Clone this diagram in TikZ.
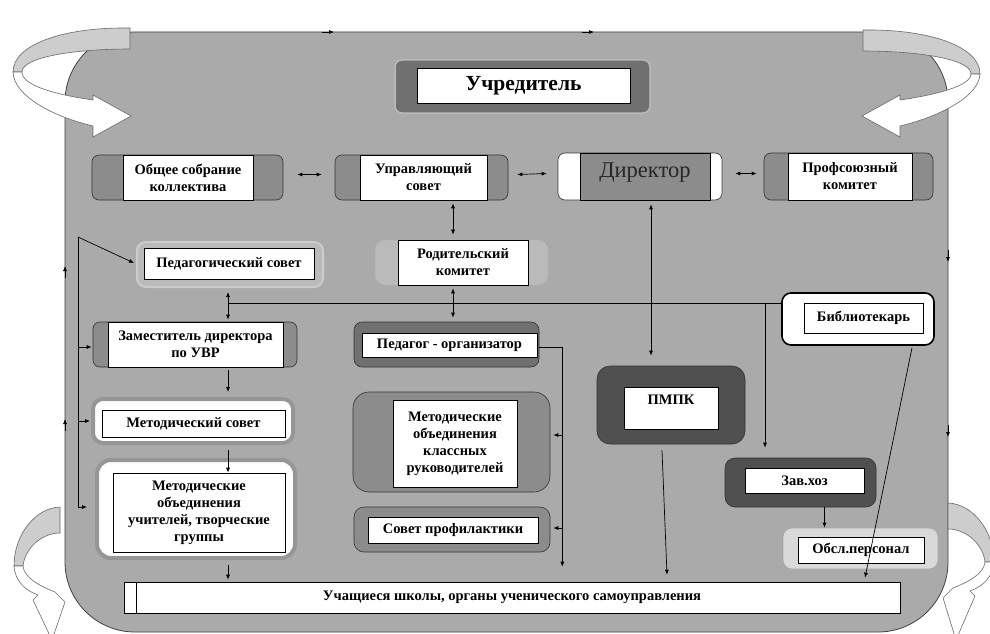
\documentclass[tikz,border=0pt]{standalone}
\usepackage{fontspec}
\setmainfont{Liberation Serif}
\usetikzlibrary{arrows.meta,calc}
\definecolor{bgc}{RGB}{170,170,170}
\definecolor{segc}{RGB}{140,140,140}
\definecolor{midc}{RGB}{112,112,112}
\definecolor{darkc}{RGB}{80,80,80}
\definecolor{halo}{RGB}{150,150,150}
\definecolor{lightc}{RGB}{186,186,186}
\definecolor{ribbon}{RGB}{205,205,205}
\definecolor{edgec}{RGB}{105,105,105}
\begin{document}
\begin{tikzpicture}[x=1pt,y=-1pt,
  lbl/.style={font=\fontsize{14.5}{17}\selectfont\bfseries, align=center},
  box/.style={rectangle, inner sep=0pt, line width=0.6pt},
  frame/.style={box, draw=black!80, rounded corners=7pt},
  whitebox/.style={box, draw=black, fill=white, lbl},
  conn/.style={draw=black, line width=0.7pt},
  arr/.style={conn, -{Latex[length=5pt,width=4pt]}},
  darr/.style={conn, {Latex[length=5pt,width=4pt]}-{Latex[length=5pt,width=4pt]}},
  ribbonst/.style={draw=edgec, line width=0.6pt}
]
\useasboundingbox (0,0) rectangle (990,634);
\fill[white] (0,0) rectangle (990,634);
% background panel
\filldraw[fill=bgc, draw=black!75, line width=0.8pt, rounded corners=70pt] (65,32) rectangle (948,632);
% arrow marks on the panel outline
\draw[arr] (322,32) -- (334,32);
\draw[arr] (582,32) -- (594,32);
\draw[arr] (948,250) -- (948,262);
\draw[arr] (948,425) -- (948,437);
\draw[arr] (65,278) -- (65,266);
\draw[arr] (65,431) -- (65,419);

% corner ribbons: top-left
\filldraw[ribbonst, fill=ribbon] (130,28) .. controls (62,27) and (13,45) .. (13,72) -- (22,72) .. controls (22,57) and (75,49) .. (130,49) -- cycle;
\filldraw[ribbonst, fill=white] (13,72) .. controls (14,97) and (55,117) .. (93,126) -- (93,137) -- (131,116) -- (93,95) -- (93,100) .. controls (58,95) and (22,86) .. (22,72) -- cycle;
% top-right
\begin{scope}[xshift=993pt, xscale=-1]
\filldraw[ribbonst, fill=ribbon] (130,30) .. controls (62,29) and (13,47) .. (13,74) -- (22,74) .. controls (22,59) and (75,51) .. (130,51) -- cycle;
\filldraw[ribbonst, fill=white] (13,74) .. controls (14,97) and (55,117) .. (93,126) -- (93,137) -- (131,116) -- (93,95) -- (93,100) .. controls (58,95) and (22,86) .. (22,74) -- cycle;
\end{scope}
% bottom-left
\filldraw[ribbonst, fill=ribbon] (60,507) .. controls (35,508) and (14,535) .. (14,566) -- (23,566) .. controls (25,548) and (42,533) .. (60,533) -- cycle;
\filldraw[ribbonst, fill=white] (14,566) .. controls (15,580) and (24,590) .. (38,595) -- (33,600) -- (52,640) -- (65,602) -- (55,592) .. controls (40,586) and (24,578) .. (23,566) -- cycle;
% bottom-right
\begin{scope}[xshift=1008pt, xscale=-1]
\filldraw[ribbonst, fill=ribbon] (60,503) .. controls (35,504) and (14,531) .. (14,562) -- (23,562) .. controls (25,544) and (42,529) .. (60,529) -- cycle;
\filldraw[ribbonst, fill=white] (14,562) .. controls (15,576) and (24,586) .. (38,591) -- (33,596) -- (52,640) -- (65,598) -- (55,588) .. controls (40,582) and (24,574) .. (23,562) -- cycle;
\end{scope}

% Учредитель
\node[frame, fill=midc, draw=lightc, line width=1.5pt, minimum width=255, minimum height=53] (uchr) at (522.5,86.5) {};
\node[whitebox, minimum width=213, minimum height=35, font=\fontsize{21.5}{24}\selectfont\bfseries] (uchrin) at (523.5,85.5) {Учредитель};

% top row
\node[frame, fill=segc, minimum width=191, minimum height=45] (obs) at (187.5,177.5) {};
\node[whitebox, minimum width=130, minimum height=45] (obsin) at (188,177.5) {Общее собрание\\коллектива};
\node[frame, fill=segc, minimum width=173, minimum height=45] (upr) at (421.5,177.5) {};
\node[whitebox, minimum width=127, minimum height=45] (uprin) at (423.5,177.5) {Управляющий\\совет};
\node[frame, fill=white, minimum width=164, minimum height=47] (dir) at (640,176.5) {};
\node[box, draw=black, fill=segc, minimum width=130, minimum height=47] (dirin) at (645,176.5) {};
\node[inner sep=0pt, font=\fontsize{22.5}{26}\selectfont, text=black!85] (dirt) at (645,173) {Директор};
\node[frame, fill=segc, minimum width=169, minimum height=47] (prof) at (848.5,176.5) {};
\node[whitebox, minimum width=124, minimum height=47] (profin) at (850,176.5) {Профсоюзный\\комитет};

% second row
\node[frame, fill=lightc, draw=white!80!black, line width=2pt, rounded corners=9pt, minimum width=186, minimum height=45] (pedsov) at (230,264.5) {};
\node[whitebox, minimum width=170, minimum height=31] (pedsovin) at (229,263.5) {Педагогический совет};
\node[frame, fill=lightc, draw=white!70!black, rounded corners=10pt, minimum width=173, minimum height=45] (rod) at (461.5,262.5) {};
\node[whitebox, minimum width=130, minimum height=45] (rodin) at (463,262.5) {Родительский\\комитет};
\node[frame, fill=white, draw=black, line width=1.6pt, rounded corners=9pt, minimum width=152, minimum height=52] (bib) at (858,319) {};
\node[whitebox, minimum width=119, minimum height=30] (bibin) at (863.5,318) {Библиотекарь};

% left column
\node[frame, fill=segc, minimum width=204, minimum height=45] (zam) at (195,344.5) {};
\node[whitebox, minimum width=175, minimum height=45] (zamin) at (195.5,344.5) {Заместитель директора\\по УВР};
\node[frame, fill=white, draw=halo, line width=4pt, rounded corners=10pt, minimum width=200, minimum height=44] (metsov) at (193,421) {};
\node[whitebox, minimum width=183, minimum height=27] (metsovin) at (193.5,423.5) {Методический совет};
\node[frame, fill=white, draw=halo, line width=4pt, rounded corners=14pt, minimum width=198, minimum height=98] (mo) at (196,509) {};
\node[whitebox, minimum width=172, minimum height=79] (moin) at (199,512.5) {Методические\\объединения\\учителей, творческие\\группы};

% middle column
\node[frame, fill=midc, rounded corners=8pt, minimum width=185, minimum height=45] (pedorg) at (446.5,344.5) {};
\node[whitebox, minimum width=175, minimum height=24] (pedorgin) at (449.5,345) {Педагог - организатор};
\node[frame, fill=segc, rounded corners=16pt, minimum width=197, minimum height=100] (mokl) at (451.5,442) {};
\node[whitebox, minimum width=124, minimum height=87] (moklin) at (455,443.5) {Методические\\объединения\\классных\\руководителей};
\node[frame, fill=segc, rounded corners=10pt, minimum width=196, minimum height=45] (sovprof) at (452,529.5) {};
\node[whitebox, minimum width=170, minimum height=26] (sovprofin) at (453,530) {Совет профилактики};

% right part
\node[frame, fill=darkc, rounded corners=13pt, minimum width=148, minimum height=78] (pmpk) at (671,405) {};
\node[whitebox, minimum width=94, minimum height=42] (pmpkin) at (671,408) {};
\node[lbl, inner sep=0pt] (pmpkt) at (671,400) {ПМПК};
\node[frame, fill=darkc, rounded corners=10pt, minimum width=151, minimum height=49] (zav) at (800.5,482.5) {};
\node[whitebox, minimum width=119, minimum height=25] (zavin) at (804.5,480.5) {Зав.хоз};
\node[frame, fill=white!85!black, draw=white!65!black, rounded corners=9pt, minimum width=155, minimum height=41] (obsl) at (860.5,548.5) {};
\node[whitebox, minimum width=126, minimum height=26] (obslin) at (861,550) {Обсл.персонал};

% bottom bar
\node[whitebox, minimum width=776, minimum height=31] (uch) at (512,597.5) {Учащиеся школы, органы ученического самоуправления};
\draw[line width=0.6pt] ($(uch.north west)+(13,0)$) -- ($(uch.south west)+(13,0)$);

% connectors: top row
\draw[darr] ($(obs.east)+(14,-3)$) -- ($(upr.west)+(-13,-3)$);
\draw[darr] ($(upr.east)+(9,-3)$) -- ($(dir.west)+(-11,-3)$);
\draw[darr] ($(dir.east)+(13,-3)$) -- ($(prof.west)+(-7,-3)$);
\draw[darr] ($(upr.south)+(31.5,3)$) -- ($(rod.north)+(-8.5,-5)$);
\draw[darr] ($(rod.south)+(-8.5,3)$) -- ($(pedorg.north)+(6.5,-4)$);

% horizontal bus
\coordinate (busL) at (228,303);
\coordinate (busZ) at (765,303);
\draw[conn] (busL) -- (bib.west |- busL);
\draw[darr] ($(pedsov.south)+(-2,4)$) -- ($(zam.north)+(33,-2)$);
\draw[darr] ($(dir.south)+(11,4)$) -- ($(pmpk.north)+(-20,-10)$);
\draw[arr] (busZ) -- ($(busZ |- zav.north)+(0,-10)$);

% Педагог-организатор branch
\coordinate (pr) at ($(pedorg.east)+(23,2.5)$);
\draw[conn] ($(pedorg.east)+(0,2.5)$) -- (pr);
\draw[arr] (pr) -- ($(pr |- uch.north)+(0,-15)$);
\draw[arr] ($(pr |- mokl.east)+(0,-7)$) -- ($(mokl.east)+(3,-7)$);
\draw[arr] ($(pr |- sovprof.east)+(0,-1.5)$) -- ($(sovprof.east)+(3,-1.5)$);

% right side connectors
\draw[arr] ($(pmpk.south)+(-9,6)$) -- ($(uch.north)+(155,-7)$);
\draw[arr] ($(zav.south)+(24,0)$) -- ($(obsl.north)+(-36,0)$);
\draw[arr] ($(bib.south)+(54,2)$) -- ($(uch.north)+(353,-4)$);

% left column chain
\draw[arr] ($(zam.south)+(33,3)$) -- ($(metsov.north)+(35,-5)$);
\draw[arr] ($(metsov.south)+(35,5)$) -- (moin.north -| busL);
\draw[arr] ($(mo.south)+(32,5)$) -- ($(uch.north)+(-284,-2)$);

% left bracket
\coordinate (lt) at (78,237);
\coordinate (lb) at (78,507);
\draw[conn] (lt) -- (lb);
\draw[arr] (lt) -- ($(pedsov.west)+(-2,-1.5)$);
\draw[arr] ($(lt |- zam.west)+(0,2.5)$) -- ($(zam.west)+(-1,2.5)$);
\draw[arr] (lt |- metsov.west) -- ($(metsov.west)+(-1,0)$);
\draw[arr] (lb) -- ($(mo.west |- lb)+(-8,0)$);
\end{tikzpicture}
\end{document}
